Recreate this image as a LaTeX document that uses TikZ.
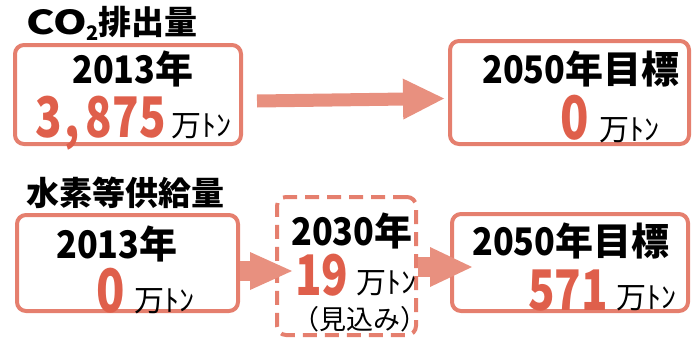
\documentclass[tikz,border=0pt]{standalone}
\usepackage{graphicx}
\usepackage{fontspec}
\setmainfont{Noto Sans CJK JP}
\usetikzlibrary{arrows.meta,calc}
\definecolor{boxc}{HTML}{E57F6E}
\definecolor{arrc}{HTML}{E8907F}
\definecolor{numc}{HTML}{DF5F4B}
\newcommand{\cnd}[1]{\scalebox{0.9}[1]{#1}}
\newcommand{\rnum}[1]{\scalebox{0.78}[1]{#1}}
\tikzset{
  frame/.style={draw=boxc, line width=4pt, rounded corners=9pt, inner sep=0pt},
  dframe/.style={frame, dash pattern=on 14pt off 8pt},
  lbl/.style={inner sep=0pt, anchor=base west},
  headtxt/.style={lbl, font=\fontsize{38}{38}\selectfont\bfseries},
  numtxt/.style={lbl, text=numc, font=\fontsize{56}{56}\selectfont\bfseries},
  bignum/.style={numtxt, font=\fontsize{60}{60}\selectfont\bfseries},
  unittxt/.style={lbl, font=\fontsize{30}{30}\selectfont},
  titletxt/.style={lbl, font=\fontsize{33}{33}\selectfont\bfseries},
  blockarrow/.style={draw=arrc, line width=#1},
}
\begin{document}
\begin{tikzpicture}[x=1pt,y=-1pt]
\useasboundingbox (0,0) rectangle (692,340);
% boxes
\node[frame, minimum width=226pt, minimum height=99pt] (b1) at (128,94.5) {};
\node[frame, minimum width=239pt, minimum height=103pt] (b2) at (569.5,92.5) {};
\node[frame, minimum width=221pt, minimum height=96pt] (b3) at (127.5,263) {};
\node[dframe, minimum width=139pt, minimum height=138pt] (b4) at (346.5,266) {};
\node[frame, minimum width=236pt, minimum height=97pt] (b5) at (570,262.5) {};
% titles
\node[titletxt] (t1) at (26,34) {\scalebox{1.3}[1]{CO}\raisebox{-6pt}{\fontsize{20}{20}\selectfont 2}排出量};
\node[titletxt] (t2) at (26,205) {水素等供給量};
% box 1
\node[headtxt] (h1) at (72,83) {\cnd{2013}年};
\node[numtxt] (n1) at (35,137) {\rnum{3\makebox[0.55em][l]{\hspace{0.06em},}875}};
\node[unittxt] (u1) at (171,136) {万ﾄﾝ};
% box 2
\node[headtxt] (h2) at (482,83) {\cnd{2050}年目標};
\node[bignum] (n2) at (560,139) {\rnum{0}};
\node[unittxt] (u2) at (599,140) {万ﾄﾝ};
% box 3
\node[headtxt] (h3) at (56,258) {\cnd{2013}年};
\node[bignum] (n3) at (96,312) {\rnum{0}};
\node[unittxt] (u3) at (134,311) {万ﾄﾝ};
% box 4
\node[headtxt] (h4) at (291,245) {\cnd{2030}年};
\node[numtxt] (n4) at (295,295) {\rnum{19}};
\node[unittxt] (u4) at (356,293) {万ﾄﾝ};
\node[inner sep=0pt, anchor=base, font=\fontsize{27}{27}\selectfont] (m4) at (360,329) {（見込み）};
% box 5
\node[headtxt] (h5) at (472,255) {\cnd{2050}年目標};
\node[numtxt] (n5) at (528,310) {\rnum{571}};
\node[unittxt] (u5) at (616,308) {万ﾄﾝ};
% arrows
\draw[blockarrow=13pt, -{Triangle[length=41pt,width=41pt,line width=0pt]}]
  ([xshift=14pt,yshift=-6.5pt]b1.east) -- ($(b2.west)+(-4pt,-6pt)$);
\draw[blockarrow=20pt, -{Triangle[length=42pt,width=38pt,line width=0pt]}]
  ([yshift=-8pt]b3.east) -- ($(b4.west)+(17pt,-5pt)$);
\draw[blockarrow=20pt, -{Triangle[length=42pt,width=40pt,line width=0pt]}]
  ([yshift=-1pt]b4.east) -- ($(b5.west)+(22pt,-4.5pt)$);
\end{tikzpicture}
\end{document}
